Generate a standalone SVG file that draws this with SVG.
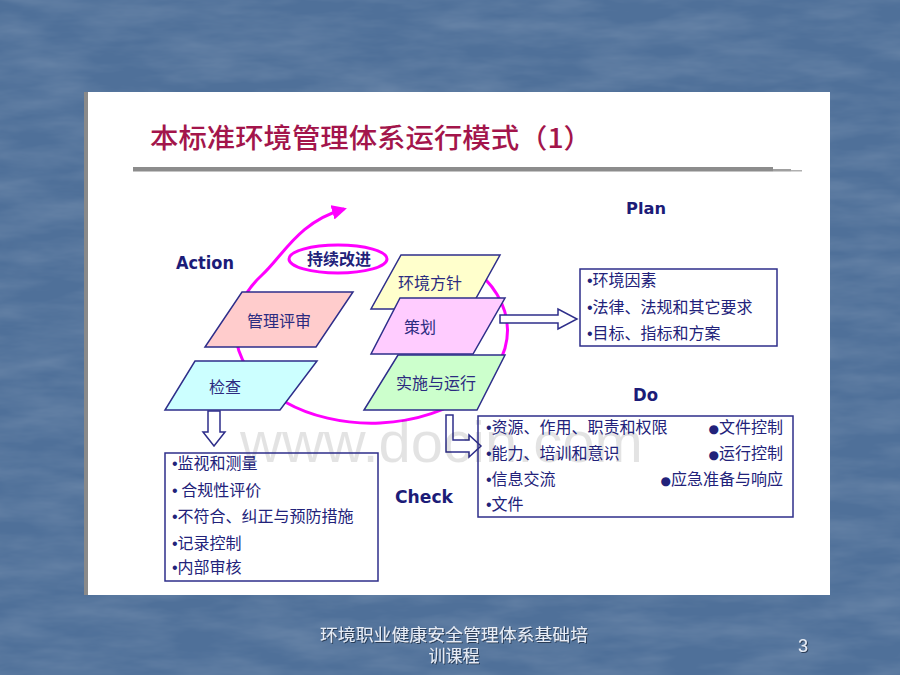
<svg xmlns="http://www.w3.org/2000/svg" width="900" height="675" viewBox="0 0 900 675">
<defs>
<filter id="tex" x="0" y="0" width="100%" height="100%">
<feTurbulence type="fractalNoise" baseFrequency="0.012 0.05" numOctaves="4" seed="7"/>
<feColorMatrix type="matrix" values="0 0 0 0 1  0 0 0 0 1  0 0 0 0 1  0 0 0 0.22 -0.07"/>
</filter>
<filter id="ds" x="-5%" y="-20%" width="110%" height="140%">
<feDropShadow dx="1" dy="1" stdDeviation="0.4" flood-color="#22344E" flood-opacity="0.9"/>
</filter>
<marker id="mag" viewBox="0 0 10 10" refX="8" refY="5" markerWidth="5" markerHeight="5" orient="auto" markerUnits="strokeWidth">
<path d="M0,0 L10,5 L0,10 Z" fill="#FF00FF"/>
</marker>
<style>
.sh{stroke:#2E2E8A;stroke-width:1.5}
.lbl{font-family:"DejaVu Sans",Verdana,sans-serif;font-weight:bold;fill:#1C1C78}
.bx{font-family:"Noto Sans CJK SC","Noto Sans",sans-serif;font-size:16px;fill:#2B2B80;text-anchor:middle}
.li{font-family:"Noto Sans CJK SC","Noto Sans",sans-serif;font-size:16px;fill:#22227A}
.b{font-family:"Liberation Sans",Arial,sans-serif;font-size:16px}
.bb{font-family:"DejaVu Sans",sans-serif;font-size:12px}
.box{fill:#FFFFFF;stroke:#2E2E8A;stroke-width:1.5}
.ft{font-family:"Noto Sans CJK SC","Liberation Sans",sans-serif;font-size:17px;text-anchor:middle;fill:#E6ECF6}
</style>
</defs>
<rect x="0" y="0" width="900" height="675" fill="#4F7099"/>
<rect x="0" y="0" width="900" height="675" filter="url(#tex)"/>
<rect x="84" y="92" width="4" height="503" fill="#8A8A8A"/>
<rect x="88" y="92" width="742" height="503" fill="#FFFFFF"/>
<g id="title">
<text x="150" y="148" textLength="442" lengthAdjust="spacingAndGlyphs" font-family="'Noto Sans CJK SC','Noto Sans',sans-serif" font-size="27" font-weight="500" fill="#A3154B">本标准环境管理体系运行模式（1）</text>
<rect x="133" y="167" width="640" height="4.5" fill="#8C8C8C"/>
<rect x="773" y="169" width="18" height="2.5" fill="#A0A0A0"/>
<rect x="791" y="170" width="11" height="1.5" fill="#B0B0B0"/>
</g>
<g id="labels">
<text class="lbl" x="626" y="214" font-size="16" textLength="40" lengthAdjust="spacingAndGlyphs">Plan</text>
<text class="lbl" x="176" y="269" font-size="17" textLength="58" lengthAdjust="spacingAndGlyphs">Action</text>
<text class="lbl" x="633" y="401" font-size="17" textLength="25" lengthAdjust="spacingAndGlyphs">Do</text>
<text class="lbl" x="395" y="503" font-size="17" textLength="58" lengthAdjust="spacingAndGlyphs">Check</text>
</g>
<g id="cycle">
<path d="M470,266 A136,93 0 1 1 262,275 C283,256 298,222 344,209" fill="none" stroke="#FF00FF" stroke-width="3" marker-end="url(#mag)"/>
</g>
<g id="improve">
<ellipse cx="338" cy="259" rx="49" ry="14" fill="#FFFFFF" stroke="#FF00FF" stroke-width="3"/>
<text x="339" y="265" text-anchor="middle" font-family="'Noto Sans CJK SC',sans-serif" font-size="16" font-weight="bold" fill="#22227A">持续改进</text>
</g>
<g id="connectors">
<polygon class="box" points="500,315 558,315 558,309 577,319 558,329 558,323 500,323"/>
<polygon class="box" points="446,415 453,415 453,440 469,440 469,435 481,446 469,457 469,452 446,452"/>
<polygon class="box" points="208,411 220,411 220,432 225,432 214,446 203,432 208,432"/>
</g>
<g id="review">
<polygon class="sh" fill="#FFCCCC" points="242,292 353,292 316,347 205,347"/>
<text class="bx" x="279" y="327">管理评审</text>
</g>
<g id="check">
<polygon class="sh" fill="#CCFFFF" points="195,361 317,361 280,410 165,410"/>
<text class="bx" x="225" y="393">检查</text>
</g>
<g id="policy">
<polygon class="sh" fill="#FFFFCC" points="401,255 500,255 470,309 371,309"/>
<text class="bx" x="430" y="289">环境方针</text>
</g>
<g id="plan">
<polygon class="sh" fill="#FFCCFF" points="400,298 505,298 473,354 371,354"/>
<text class="bx" x="420" y="333">策划</text>
</g>
<g id="do">
<polygon class="sh" fill="#CCFFCC" points="398,355 505,355 477,410 364,410"/>
<text class="bx" x="436" y="389">实施与运行</text>
</g>
<text x="240" y="462" font-family="'Liberation Sans',Arial,sans-serif" font-size="58" fill="#000000" fill-opacity="0.11">www.docin.com</text>
<g id="plan-box">
<rect class="box" x="580" y="269" width="197" height="77" fill-opacity="0.85"/>
<text class="li" x="587" y="286"><tspan class="b">•</tspan>环境因素</text>
<text class="li" x="587" y="313"><tspan class="b">•</tspan>法律、法规和其它要求</text>
<text class="li" x="587" y="339"><tspan class="b">•</tspan>目标、指标和方案</text>
</g>
<g id="do-box">
<rect x="478" y="416" width="315" height="101" fill="none" stroke="#2E2E8A" stroke-width="1.5"/>
<text class="li" x="486" y="433"><tspan class="b">•</tspan>资源、作用、职责和权限</text>
<text class="li" x="486" y="459"><tspan class="b">•</tspan>能力、培训和意识</text>
<text class="li" x="486" y="485"><tspan class="b">•</tspan>信息交流</text>
<text class="li" x="486" y="510"><tspan class="b">•</tspan>文件</text>
<text class="li" x="783" y="433" text-anchor="end"><tspan class="bb">●</tspan>文件控制</text>
<text class="li" x="783" y="459" text-anchor="end"><tspan class="bb">●</tspan>运行控制</text>
<text class="li" x="783" y="485" text-anchor="end"><tspan class="bb">●</tspan>应急准备与响应</text>
</g>
<g id="check-box">
<rect x="165" y="453" width="213" height="128" fill="none" stroke="#2E2E8A" stroke-width="1.5"/>
<text class="li" x="172" y="469"><tspan class="b">•</tspan>监视和测量</text>
<text class="li" x="172" y="496"><tspan class="b">•</tspan> 合规性评价</text>
<text class="li" x="172" y="522"><tspan class="b">•</tspan>不符合、纠正与预防措施</text>
<text class="li" x="172" y="549"><tspan class="b">•</tspan>记录控制</text>
<text class="li" x="172" y="573"><tspan class="b">•</tspan>内部审核</text>
</g>
<g id="footer" filter="url(#ds)">
<text class="ft" x="454" y="641" textLength="268" lengthAdjust="spacingAndGlyphs">环境职业健康安全管理体系基础培</text>
<text class="ft" x="454" y="662">训课程</text>
<text x="803" y="652" font-family="'Liberation Sans',sans-serif" font-size="18" fill="#E6ECF6" text-anchor="middle">3</text>
</g>
</svg>
